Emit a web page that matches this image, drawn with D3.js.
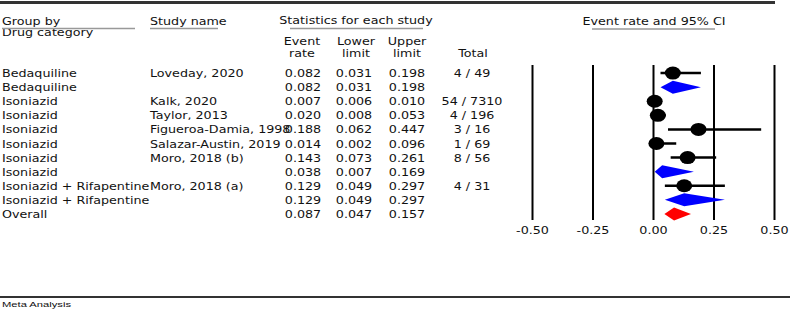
<!DOCTYPE html>
<html>
<head>
<meta charset="utf-8">
<script src="https://cdn.jsdelivr.net/npm/d3@7"></script>
<style>
  body { margin: 0; background: #fff; }
  text { font-family: "DejaVu Sans", Verdana, sans-serif; fill: #111; }
</style>
</head>
<body>
<div id="chart"></div>
<script>
// rows of the forest plot
var groups = ['Bedaquiline', 'Bedaquiline', 'Isoniazid', 'Isoniazid', 'Isoniazid', 'Isoniazid', 'Isoniazid',
              'Isoniazid', 'Isoniazid + Rifapentine', 'Isoniazid + Rifapentine', 'Overall'];
var studies = ['Loveday, 2020', '', 'Kalk, 2020', 'Taylor, 2013', 'Figueroa-Damia, 1998', 'Salazar-Austin, 2019',
               'Moro, 2018 (b)', '', 'Moro, 2018 (a)', '', ''];
var rates = [0.082, 0.082, 0.007, 0.020, 0.188, 0.014, 0.143, 0.038, 0.129, 0.129, 0.087];
var lowers = [0.031, 0.031, 0.006, 0.008, 0.062, 0.002, 0.073, 0.007, 0.049, 0.049, 0.047];
var uppers = [0.198, 0.198, 0.010, 0.053, 0.447, 0.096, 0.261, 0.169, 0.297, 0.297, 0.157];
var totals = ['4 / 49', '', '54 / 7310', '4 / 196', '3 / 16', '1 / 69', '8 / 56', '', '4 / 31', '', ''];
var kinds = ['study', 'summary', 'study', 'study', 'study', 'study', 'study', 'summary', 'study', 'summary', 'overall'];
var ticks = [-0.50, -0.25, 0.00, 0.25, 0.50];

var width = 790, height = 311;
var sx = 1.27; // horizontal stretch of the original
var fs = 10;

var svg = d3.select('#chart').append('svg')
    .attr('width', width)
    .attr('height', height);

function label(x, y, txt, anchor, size) {
    return svg.append('text')
        .attr('transform', 'translate(' + x + ',' + y + ') scale(' + sx + ',1)')
        .attr('text-anchor', anchor || 'start')
        .style('font-size', (size || fs) + 'px')
        .text(txt);
}

// frame lines
svg.append('line').attr('x1', 0).attr('x2', 775).attr('y1', 2.5).attr('y2', 2.5)
    .attr('stroke', '#333').attr('stroke-width', 3);
svg.append('line').attr('x1', 0).attr('x2', width).attr('y1', 297).attr('y2', 297)
    .attr('stroke', '#333').attr('stroke-width', 2);

// headers
label(2, 25, 'Group by');
label(2, 36, 'Drug category');
label(150, 25, 'Study name');
label(356, 24, 'Statistics for each study', 'middle');
label(654, 25, 'Event rate and 95% CI', 'middle');
var ul = [[2, 135, 28.5], [150, 218, 28.5], [290, 423, 28.5], [592, 715, 29]];
ul.forEach(function(u) {
    svg.append('line').attr('x1', u[0]).attr('x2', u[1]).attr('y1', u[2]).attr('y2', u[2])
        .attr('stroke', '#999').attr('stroke-width', 1.5);
});
label(302, 45, 'Event', 'middle');
label(302, 57, 'rate', 'middle');
label(356, 45, 'Lower', 'middle');
label(356, 57, 'limit', 'middle');
label(407, 45, 'Upper', 'middle');
label(407, 57, 'limit', 'middle');
label(473, 57, 'Total', 'middle');

// row scale
var y = d3.scaleBand().domain(d3.range(rates.length)).range([66, 221]);
var x = d3.scaleLinear().domain([-0.5, 0.5]).range([532, 774]);

var fmt = d3.format('.3f');
rates.forEach(function(r, i) {
    var yy = y(i) + y.bandwidth() / 2 + 4;
    label(2, yy, groups[i]);
    if (studies[i]) label(150, yy, studies[i]);
    label(303, yy, fmt(r), 'middle');
    label(354, yy, fmt(lowers[i]), 'middle');
    label(407, yy, fmt(uppers[i]), 'middle');
    if (totals[i]) label(472, yy, totals[i], 'middle');
});

// vertical reference lines and tick labels
var axis = svg.append('g')
    .attr('transform', 'translate(0,220)')
    .call(d3.axisBottom(x).tickValues(ticks).tickSizeInner(-155).tickSizeOuter(0)
        .tickPadding(7).tickFormat(function(d) { return d.toFixed(2); }));
axis.select('.domain').remove();
axis.selectAll('.tick line').attr('stroke', '#000').attr('stroke-width', 2);
axis.selectAll('.tick text')
    .attr('transform', 'scale(' + sx + ',1)')
    .attr('fill', '#111')
    .style('font-size', fs + 'px')
    .style('font-family', '"DejaVu Sans", Verdana, sans-serif');

// marks
var marks = svg.append('g');
rates.forEach(function(r, i) {
    var cy = y(i) + y.bandwidth() / 2;
    if (kinds[i] === 'study') {
        marks.append('line')
            .attr('x1', x(lowers[i])).attr('x2', x(uppers[i]))
            .attr('y1', cy).attr('y2', cy)
            .attr('stroke', '#000').attr('stroke-width', 2.5);
        marks.append('ellipse')
            .attr('cx', x(r)).attr('cy', cy)
            .attr('rx', 8).attr('ry', 6.5)
            .attr('fill', '#000');
    } else {
        var h = 6.5;
        var pts = [[x(lowers[i]), cy], [x(r), cy - h], [x(uppers[i]), cy], [x(r), cy + h]];
        marks.append('polygon')
            .attr('points', pts.map(function(p) { return p.join(','); }).join(' '))
            .attr('fill', kinds[i] === 'overall' ? '#ff0000' : '#0000ff');
    }
});

// footer
svg.append('text')
    .attr('transform', 'translate(2,307) scale(1.4,1)')
    .style('font-family', '"Liberation Sans", Arial, sans-serif')
    .style('font-size', '8px')
    .text('Meta Analysis');
</script>
</body>
</html>
